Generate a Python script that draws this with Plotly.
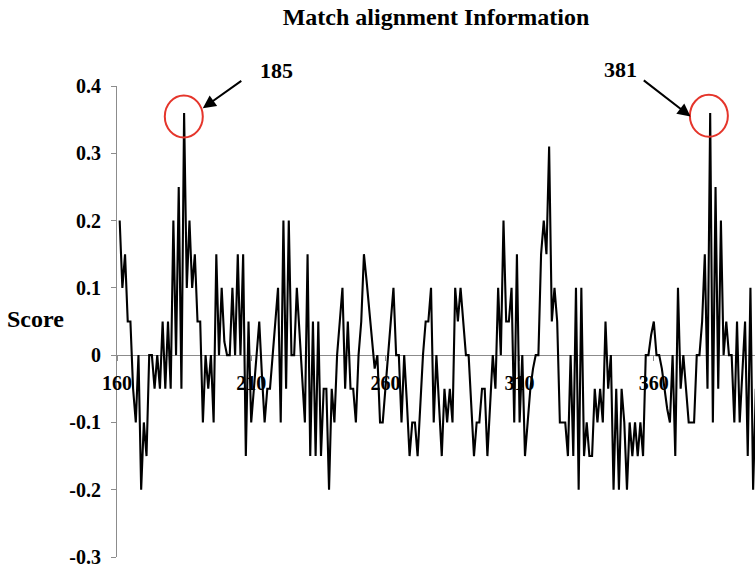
import plotly.graph_objects as go

# ---- data ----
x_start = 161
scores = [
    0.2, 0.1, 0.15, 0.05, 0.05, -0.05, -0.1, 0, -0.2, -0.1,
    -0.15, 0, 0, -0.05, 0, -0.05, 0.05, -0.05, 0.05, -0.05,
    0.2, 0, 0.25, -0.05, 0.36, 0.1, 0.2, 0.1, 0.15, 0.05,
    0.05, -0.1, 0, -0.05, 0, -0.1, 0.15, 0, 0.1, 0.02,
    0, 0, 0.1, 0, 0.15, 0, 0.15, -0.15, 0.05, -0.1,
    -0.05, 0, 0.05, -0.03, -0.1, -0.05, -0.05, 0, 0.05, 0.1,
    -0.1, 0.2, -0.05, 0.2, 0, 0, 0.1, 0.03, -0.03, -0.1,
    0.15, -0.15, 0.05, -0.15, 0.05, -0.15, -0.05, -0.05, -0.2, -0.05,
    -0.1, 0, 0.05, 0.1, -0.05, 0.05, -0.05, -0.05, -0.1, 0,
    0.05, 0.15, 0.11, 0.07, 0.02, -0.02, 0, -0.1, -0.1, -0.05,
    0, 0.05, 0.1, 0, 0, -0.1, 0, -0.07, -0.15, -0.1,
    -0.1, -0.15, -0.07, 0, 0.05, 0.05, 0.1, -0.1, 0, -0.07,
    -0.15, -0.05, -0.1, -0.05, -0.1, 0.1, 0.05, 0.1, 0.05, 0,
    0, -0.07, -0.15, -0.1, -0.1, -0.05, -0.05, -0.15, -0.07, 0,
    -0.05, 0.1, 0, 0.2, 0.05, 0.05, 0.1, -0.1, 0.15, -0.1,
    0, -0.15, -0.1, -0.05, -0.02, 0, 0, 0.15, 0.2, 0.15,
    0.31, 0.05, 0.1, 0.05, -0.1, -0.1, -0.1, -0.15, 0, -0.15,
    0.1, -0.2, 0.1, -0.15, -0.1, -0.15, -0.15, -0.05, -0.1, -0.05,
    -0.1, 0.05, -0.05, 0, -0.2, -0.05, -0.2, -0.05, -0.1, -0.2,
    -0.1, -0.15, -0.1, -0.15, -0.1, -0.15, 0, 0, 0.03, 0.05,
    0, 0, -0.02, -0.05, -0.08, -0.1, 0, -0.15, 0.1, -0.05,
    0, -0.05, -0.1, -0.1, -0.1, 0, 0, 0.05, 0.15, -0.05,
    0.36, -0.1, 0.25, -0.05, 0.2, 0, 0.05, 0, 0, -0.1,
    0.05, -0.1, -0.03, 0.05, -0.15, 0.1, -0.2, -0.05,
]
positions = [x_start + i for i in range(len(scores))]

x_tick_vals = [160, 210, 260, 310, 360]
x_tick_text = ["160", "210", "260", "310", "360"]
y_tick_vals = [0.4, 0.3, 0.2, 0.1, 0, -0.1, -0.2, -0.3]
y_tick_text = ["0.4", "0.3", "0.2", "0.1", "0", "-0.1", "-0.2", "-0.3"]

peak_positions = [185, 381]
peak_labels = ["185", "381"]

title_text = "Match alignment Information"
y_label = "Score"

# ---- figure ----
FONT = "Liberation Serif, Times New Roman, serif"
RED = "#e5352b"
GRAY = "#8c8c8c"

fig = go.Figure()
fig.add_trace(go.Scatter(
    x=positions, y=scores, mode="lines",
    line=dict(color="black", width=2.1),
    hoverinfo="skip", showlegend=False,
))

y_min, y_max = -0.3, 0.4
zero_pos = (0 - y_min) / (y_max - y_min)

fig.update_layout(
    width=755, height=569,
    margin=dict(l=117, r=0, t=86, b=12, autoexpand=False),
    paper_bgcolor="white", plot_bgcolor="white",
    showlegend=False,
    title=dict(text=title_text, x=0.5, xref="paper", xanchor="center",
               y=1 - 17 / 569, yref="container", yanchor="middle",
               font=dict(family=FONT, size=24, color="black", weight="bold")),
    xaxis=dict(
        range=[160, 397.7], anchor="free", position=zero_pos,
        showline=True, linecolor=GRAY, linewidth=1,
        ticks="outside", ticklen=5, tickcolor=GRAY,
        tickvals=x_tick_vals, ticktext=x_tick_text,
        tickfont=dict(family=FONT, size=20, color="black", weight="bold"),
        ticklabelstandoff=5,
        showgrid=False, zeroline=False, layer="below traces",
    ),
    yaxis=dict(
        range=[y_min, y_max],
        showline=True, linecolor=GRAY, linewidth=1,
        ticks="outside", ticklen=5, tickcolor=GRAY,
        tickvals=y_tick_vals, ticktext=y_tick_text,
        tickfont=dict(family=FONT, size=20, color="black", weight="bold"),
        ticklabelstandoff=6,
        showgrid=False, zeroline=False, layer="below traces",
    ),
)

fig.add_annotation(
    text=y_label, xref="paper", yref="paper", x=(35 - 117) / 638, y=(0.054 - y_min) / (y_max - y_min),
    xanchor="center", yanchor="middle", showarrow=False,
    font=dict(family=FONT, size=24, color="black", weight="bold"),
)

# annotation geometry (pixel offsets relative to each peak)
circle_off = [(-19.3, 18.7, -24.6, 17.4), (-20.3, 17.7, -23.9, 18.1)]
arrow_shift = [(18.7, 4.7), (-19.6, -3.6)]
arrow_tail = [(40, -28.4), (-48.3, -37.3)]
label_shift = [(92, 42.4), (-90.1, 43.9)]

for k, (px, lab) in enumerate(zip(peak_positions, peak_labels)):
    py = scores[positions.index(px)]
    x0, x1, y0, y1 = circle_off[k]
    fig.add_shape(type="circle", xref="x", yref="y",
                  xsizemode="pixel", ysizemode="pixel",
                  xanchor=px, yanchor=py, x0=x0, x1=x1, y0=y0, y1=y1,
                  line=dict(color=RED, width=2))
    fig.add_annotation(x=px, y=py, xref="x", yref="y", text="",
                       xshift=arrow_shift[k][0], yshift=arrow_shift[k][1],
                       showarrow=True, ax=arrow_tail[k][0], ay=arrow_tail[k][1],
                       arrowhead=2, arrowsize=1.3, arrowwidth=2, arrowcolor="black")
    fig.add_annotation(x=px, y=py, xref="x", yref="y", text=lab, showarrow=False,
                       xshift=label_shift[k][0], yshift=label_shift[k][1],
                       xanchor="center", yanchor="middle",
                       font=dict(family=FONT, size=22, color="black", weight="bold"))

fig.write_html("out.html", config={"displayModeBar": False},
               post_script="document.body.style.margin='0';document.body.style.padding='0';")
